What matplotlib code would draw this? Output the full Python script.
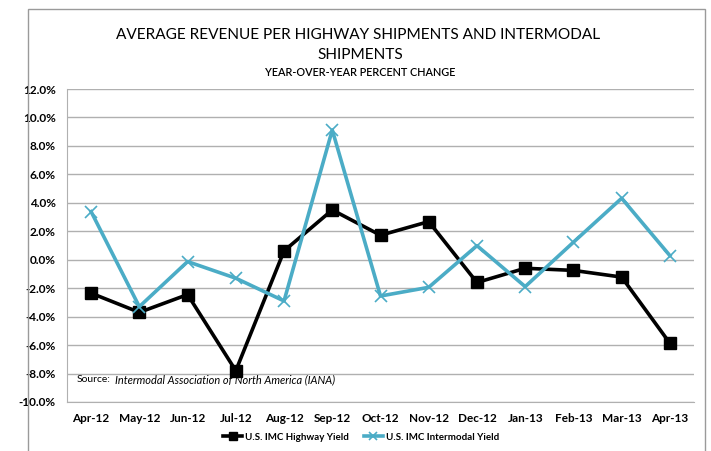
import matplotlib
matplotlib.use("Agg")
import matplotlib.pyplot as plt
from matplotlib.patches import Rectangle
from matplotlib.ticker import FuncFormatter, MultipleLocator

months = ["Apr-12", "May-12", "Jun-12", "Jul-12", "Aug-12", "Sep-12", "Oct-12",
          "Nov-12", "Dec-12", "Jan-13", "Feb-13", "Mar-13", "Apr-13"]
highway = [-2.35, -3.7, -2.45, -7.8, 0.62, 3.5, 1.72, 2.68, -1.6, -0.6, -0.75, -1.22, -5.87]
intermodal = [3.38, -3.3, -0.13, -1.3, -2.9, 9.12, -2.55, -1.94, 0.99, -1.89, 1.23, 4.32, 0.29]

plt.rcParams['font.family'] = ['Lato', 'DejaVu Sans']

fig = plt.figure(figsize=(7.11, 4.51), dpi=100)
fig.patches.append(Rectangle((28/711, -0.01), (705-28)/711, (451-8)/451 + 0.01 - 1/451,
                             transform=fig.transFigure, fill=False,
                             edgecolor="#9a9a9a", linewidth=1.0))

ax = fig.add_axes([67/711, 1-402/451, (694-67)/711, (402-89)/451])
x = list(range(len(months)))
ax.plot(x, highway, color="black", linewidth=2.6, marker="s", markersize=8,
        label="U.S. IMC Highway Yield", zorder=3)
ax.plot(x, intermodal, color="#4BACC6", linewidth=2.6, marker="x", markersize=8,
        markeredgewidth=1.2, label="U.S. IMC Intermodal Yield", zorder=3)

ax.set_ylim(-10, 12)
ax.set_xlim(-0.5, len(months) - 0.5)
ax.yaxis.set_major_locator(MultipleLocator(2))
ax.yaxis.set_major_formatter(FuncFormatter(lambda v, p: f"{v:.1f}%"))
ax.grid(axis="y", color="#b0b0b0", linewidth=1.0)
ax.set_axisbelow(True)
ax.set_xticks(x)
ax.set_xticklabels(months, fontweight="bold", fontsize=8.5)
for lab in ax.get_yticklabels():
    lab.set_fontweight("bold")
    lab.set_fontsize(8.5)
ax.tick_params(axis="both", length=0, pad=8)
for s in ["top", "right"]:
    ax.spines[s].set_visible(False)
ax.spines["left"].set_color("#b0b0b0")
ax.spines["bottom"].set_color("#b0b0b0")

fig.text(77/711, 1-380/451, "Source:", fontsize=7.5, va="center", ha="left")
fig.text(115/711, 1-380/451, "Intermodal Association of North America (IANA)",
         fontsize=7.9, style="italic", va="center", ha="left")

fig.text(358/711, 1-35/451, "AVERAGE REVENUE PER HIGHWAY SHIPMENTS AND INTERMODAL",
         fontsize=11.1, ha="center", va="center")
fig.text(360/711, 1-55/451, "SHIPMENTS", fontsize=11.1, ha="center", va="center")
fig.text(360/711, 1-72/451, "YEAR-OVER-YEAR PERCENT CHANGE", fontsize=7.8,
         ha="center", va="center", fontweight="semibold")

fig.legend(loc="center", bbox_to_anchor=(361/711, 1-437/451), ncol=2, frameon=False,
           prop={"weight": "bold", "size": 7}, handlelength=2.0,
           markerscale=0.7, columnspacing=1.5, handletextpad=0.3)

fig.savefig("out.png", dpi=100)
